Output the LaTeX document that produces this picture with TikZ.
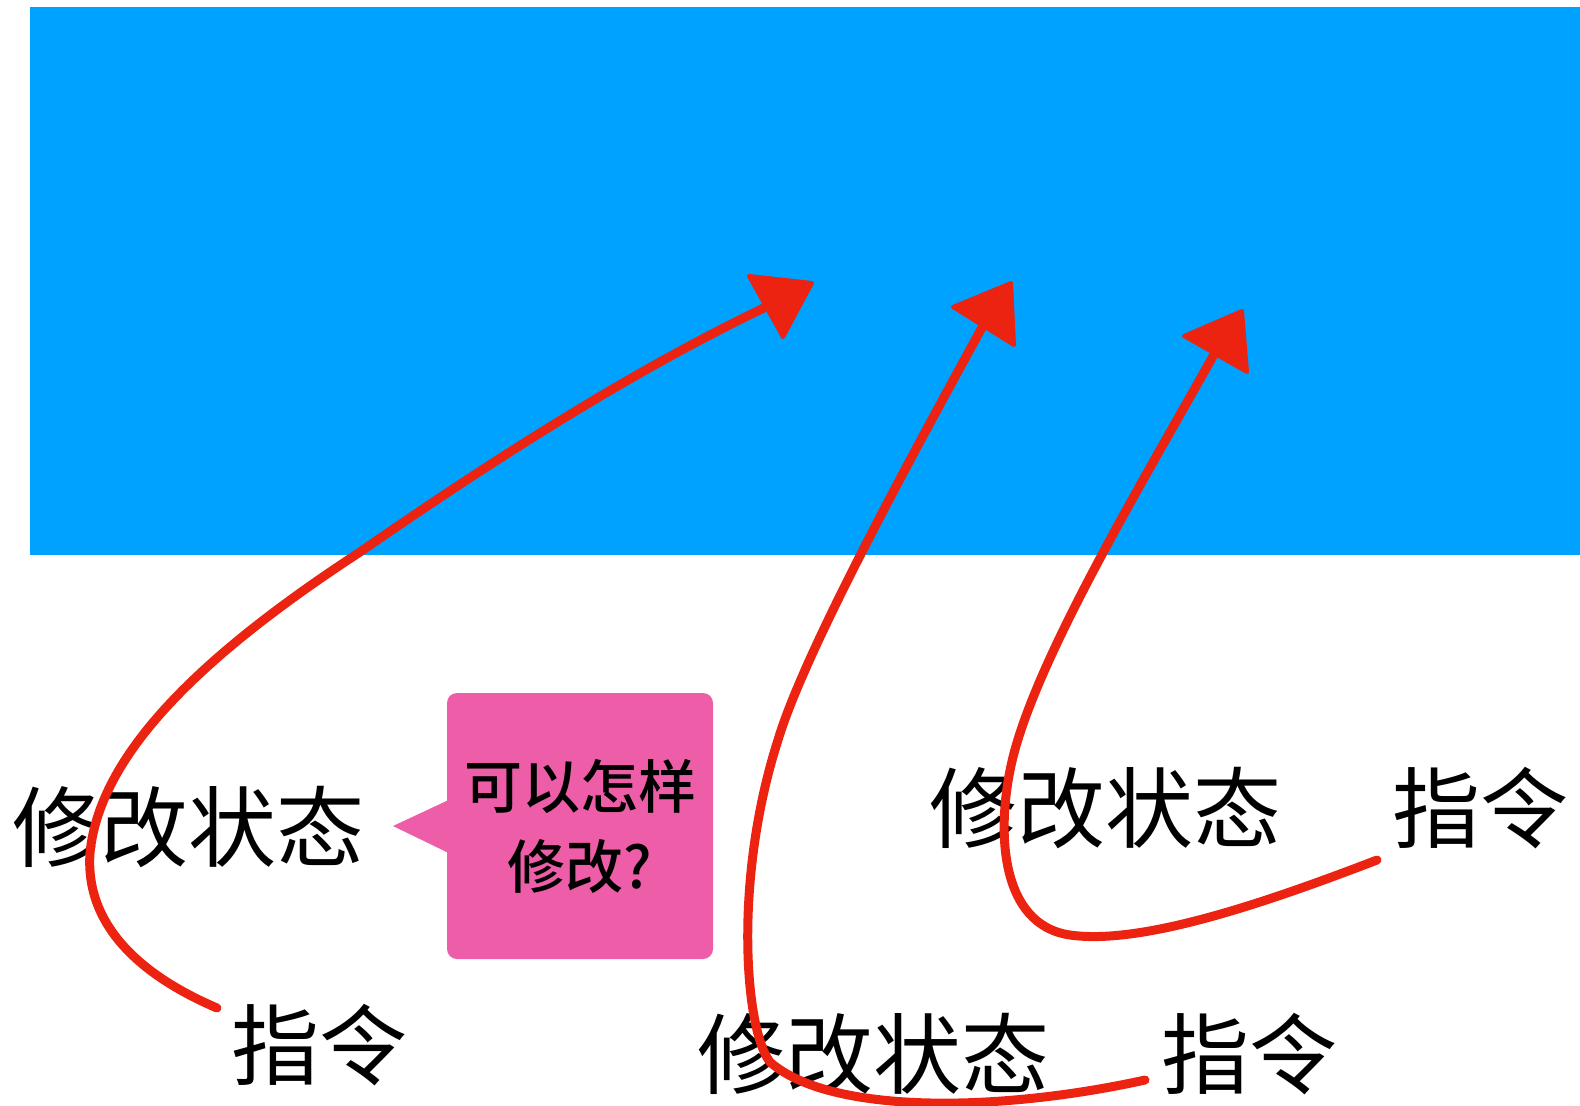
\documentclass[tikz,border=0pt]{standalone}
\usepackage{fontspec}
\usetikzlibrary{calc}
\newfontfamily\cjk{Noto Sans CJK SC}
\newfontfamily\cjkm{Noto Sans CJK SC}[UprightFont={* Medium}]
\definecolor{bluebg}{RGB}{0,162,255}
\definecolor{pinkc}{RGB}{238,94,168}
\definecolor{redc}{RGB}{236,35,16}
\tikzset{
  bigtext/.style={font=\cjk\fontsize{44}{50}\selectfont, inner sep=0pt, anchor=base, text=black},
  callbox/.style={fill=pinkc, rounded corners=5pt, minimum width=133pt, minimum height=133pt,
    align=center, inner sep=0pt, font=\cjkm\fontsize{29}{40}\selectfont},
  crayon/.style={draw=redc, line width=4.5pt, line cap=round, line join=round},
  headtip/.style={fill=redc, draw=redc, line width=2pt, line join=round}
}
\begin{document}
\begin{tikzpicture}[x=0.5pt,y=-0.5pt]
\useasboundingbox (0,0) rectangle (1580,1105);
\fill[bluebg] (30,7) rectangle (1580,555);

% texts
\node[bigtext] (ms1) at (188,860) {修改状态};
\node[bigtext] (zl1) at (319,1078) {指令};
\node[bigtext] (ms2) at (873,1087) {修改状态};
\node[bigtext] (zl2) at (1249,1087) {指令};
\node[bigtext] (ms3) at (1105,841) {修改状态};
\node[bigtext] (zl3) at (1480,841) {指令};

% callout
\node[callbox] (q) at (580,826) {可以怎样\\修改?};
\coordinate (qtip) at (393,826);
\fill[pinkc] ($(q.west)+(2,-26)$) -- (qtip) -- ($(q.west)+(2,27)$) -- cycle;

% arrow 1
\coordinate (s1) at (217,1008);
\coordinate (e1) at (785,298);
\draw[crayon] (s1) .. controls (140,975) and (85,925) .. (90,853)
  .. controls (100,750) and (210,650) .. (360,552)
  .. controls (490,462) and (640,365) .. (e1);
\filldraw[headtip] (749,276) -- (812,283) -- (783,337) -- cycle;

% arrow 2
\coordinate (s2) at (1145,1080);
\coordinate (e2) at (985,322);
\draw[crayon] (s2) .. controls (1000,1112) and (830,1115) .. (770,1062)
  .. controls (745,1030) and (733,880) .. (778,740)
  .. controls (805,650) and (915,450) .. (e2);
\filldraw[headtip] (953,307) -- (1011,283) -- (1014,345) -- cycle;

% arrow 3
\coordinate (s3) at (1377,860);
\coordinate (e3) at (1222,340);
\draw[crayon] (s3) .. controls (1260,905) and (1140,945) .. (1070,935)
  .. controls (1000,925) and (995,830) .. (1013,757)
  .. controls (1040,650) and (1150,470) .. (e3);
\filldraw[headtip] (1184,336) -- (1242,311) -- (1247,372) -- cycle;
\end{tikzpicture}
\end{document}
